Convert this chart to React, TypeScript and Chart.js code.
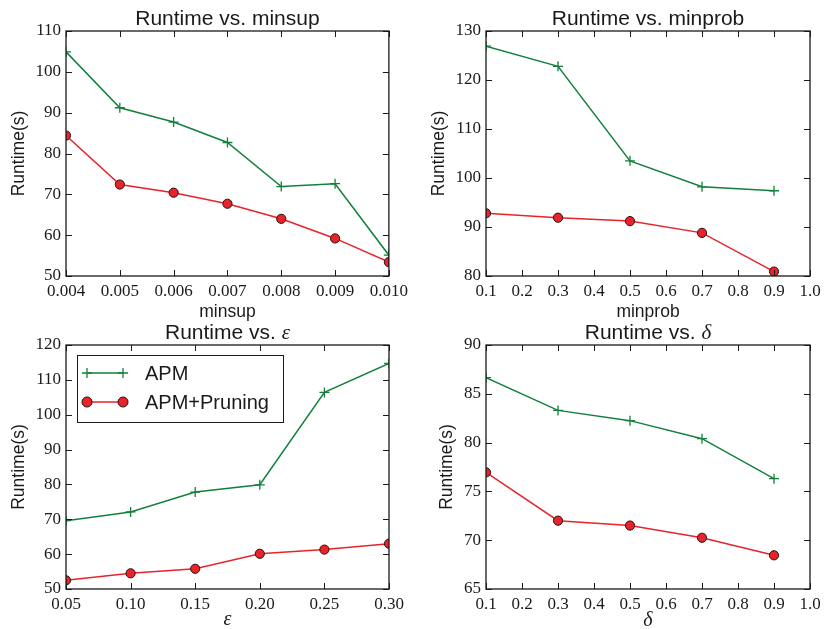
import React, { useEffect, useRef } from 'react';
import { Chart, registerables } from 'chart.js';

Chart.register(...registerables);

// ---- data -------------------------------------------------------------

const minsupValues = [0.004, 0.005, 0.006, 0.007, 0.008, 0.009, 0.01];
const minsupApm = [104.9, 91.2, 87.7, 82.7, 71.9, 72.6, 55.1];
const minsupPruning = [84.4, 72.4, 70.4, 67.7, 64.0, 59.2, 53.4];
const minsupTicks = [0.004, 0.005, 0.006, 0.007, 0.008, 0.009, 0.01];
const minsupRuntimeTicks = [50, 60, 70, 80, 90, 100, 110];

const minprobValues = [0.1, 0.3, 0.5, 0.7, 0.9];
const minprobApm = [126.9, 122.8, 103.5, 98.2, 97.4];
const minprobPruning = [92.8, 91.9, 91.2, 88.8, 80.9];
const minprobTicks = [0.1, 0.2, 0.3, 0.4, 0.5, 0.6, 0.7, 0.8, 0.9, 1.0];
const minprobRuntimeTicks = [80, 90, 100, 110, 120, 130];

const epsilonValues = [0.05, 0.1, 0.15, 0.2, 0.25, 0.3];
const epsilonApm = [69.6, 72.1, 77.8, 79.9, 106.4, 114.7];
const epsilonPruning = [52.5, 54.5, 55.8, 60.1, 61.3, 63.0];
const epsilonTicks = [0.05, 0.1, 0.15, 0.2, 0.25, 0.3];
const epsilonRuntimeTicks = [50, 60, 70, 80, 90, 100, 110, 120];

const deltaValues = [0.1, 0.3, 0.5, 0.7, 0.9];
const deltaApm = [86.65, 83.3, 82.25, 80.4, 76.3];
const deltaPruning = [76.95, 72.0, 71.5, 70.25, 68.45];
const deltaTicks = [0.1, 0.2, 0.3, 0.4, 0.5, 0.6, 0.7, 0.8, 0.9, 1.0];
const deltaRuntimeTicks = [65, 70, 75, 80, 85, 90];

const seriesNames = ['APM', 'APM+Pruning'];

// ---- styling ----------------------------------------------------------

const SANS = '"Liberation Sans", Arial, Helvetica, sans-serif';
const SERIF = '"Liberation Serif", "Times New Roman", serif';
const GREEN = '#12803c';
const RED = '#e8232a';
const INK = '#1a1a1a';
const MARKER_EDGE = '#2b1010';

type Run = { text: string; font: string };

interface PanelSpec {
  key: string;
  pos: [number, number, number, number];
  titleRuns: Run[];
  xTitle: string;
  xTitleFont: { family: string; size: number; style?: 'normal' | 'italic' };
  xTitlePad: number;
  xs: number[];
  apm: number[];
  pruning: number[];
  xTicks: number[];
  yTicks: number[];
  xDecimals: number;
  padLeft: number;
  yWidth: number;
  padRight: number;
  padTop: number;
  xHeight: number;
  legend: boolean;
}

const titleFont = `21px ${SANS}`;
const titleMath = `italic 21px ${SERIF}`;

// The upper canvases run a little past the row boundary so that
// descenders of their x-axis titles are not cut off.
const panels: PanelSpec[] = [
  {
    key: 'minsup',
    pos: [0, 0, 413, 324],
    titleRuns: [{ text: 'Runtime vs. minsup', font: titleFont }],
    xTitle: 'minsup',
    xTitleFont: { family: SANS, size: 17.5 },
    xTitlePad: 1,
    xs: minsupValues,
    apm: minsupApm,
    pruning: minsupPruning,
    xTicks: minsupTicks,
    yTicks: minsupRuntimeTicks,
    xDecimals: 3,
    padLeft: 1,
    yWidth: 65,
    padRight: 24,
    padTop: 31,
    xHeight: 48,
    legend: false,
  },
  {
    key: 'minprob',
    pos: [413, 0, 413, 324],
    titleRuns: [{ text: 'Runtime vs. minprob', font: titleFont }],
    xTitle: 'minprob',
    xTitleFont: { family: SANS, size: 17.5 },
    xTitlePad: 1,
    xs: minprobValues,
    apm: minprobApm,
    pruning: minprobPruning,
    xTicks: minprobTicks,
    yTicks: minprobRuntimeTicks,
    xDecimals: 1,
    padLeft: 8,
    yWidth: 65,
    padRight: 16,
    padTop: 31,
    xHeight: 48,
    legend: false,
  },
  {
    key: 'epsilon',
    pos: [0, 315, 413, 314],
    titleRuns: [
      { text: 'Runtime vs. ', font: titleFont },
      { text: 'ε', font: titleMath },
    ],
    xTitle: 'ε',
    xTitleFont: { family: SERIF, size: 20, style: 'italic' },
    xTitlePad: -3,
    xs: epsilonValues,
    apm: epsilonApm,
    pruning: epsilonPruning,
    xTicks: epsilonTicks,
    yTicks: epsilonRuntimeTicks,
    xDecimals: 2,
    padLeft: 1,
    yWidth: 65,
    padRight: 24,
    padTop: 30,
    xHeight: 40,
    legend: true,
  },
  {
    key: 'delta',
    pos: [413, 315, 413, 314],
    titleRuns: [
      { text: 'Runtime vs. ', font: titleFont },
      { text: 'δ', font: titleMath },
    ],
    xTitle: 'δ',
    xTitleFont: { family: SERIF, size: 20, style: 'italic' },
    xTitlePad: -4,
    xs: deltaValues,
    apm: deltaApm,
    pruning: deltaPruning,
    xTicks: deltaTicks,
    yTicks: deltaRuntimeTicks,
    xDecimals: 1,
    padLeft: 16,
    yWidth: 57,
    padRight: 16,
    padTop: 30,
    xHeight: 40,
    legend: false,
  },
];

// ---- plugins ----------------------------------------------------------

// Boxed axes with inward tick marks on all four sides.
const framePlugin = {
  id: 'boxedFrame',
  afterDatasetsDraw(chart: any) {
    const { ctx, chartArea: a, scales } = chart;
    const len = 6;
    ctx.save();
    ctx.strokeStyle = INK;
    ctx.lineWidth = 1;
    ctx.beginPath();
    for (const t of scales.x.ticks) {
      const px = Math.round(scales.x.getPixelForValue(t.value)) + 0.5;
      ctx.moveTo(px, a.bottom);
      ctx.lineTo(px, a.bottom - len);
      ctx.moveTo(px, a.top);
      ctx.lineTo(px, a.top + len);
    }
    for (const t of scales.y.ticks) {
      const py = Math.round(scales.y.getPixelForValue(t.value)) + 0.5;
      ctx.moveTo(a.left, py);
      ctx.lineTo(a.left + len, py);
      ctx.moveTo(a.right, py);
      ctx.lineTo(a.right - len, py);
    }
    ctx.stroke();
    ctx.lineWidth = 1.3;
    ctx.strokeRect(a.left, a.top, a.right - a.left, a.bottom - a.top);
    ctx.restore();
  },
};

function makeTitlePlugin(runs: Run[]) {
  return {
    id: 'mixedTitle',
    afterDraw(chart: any) {
      const { ctx, chartArea: a } = chart;
      ctx.save();
      ctx.fillStyle = INK;
      ctx.textBaseline = 'alphabetic';
      ctx.textAlign = 'left';
      const widths = runs.map((r) => {
        ctx.font = r.font;
        return ctx.measureText(r.text).width;
      });
      const total = widths.reduce((s, w) => s + w, 0);
      let x = (a.left + a.right) / 2 - total / 2;
      const y = a.top - 6.5;
      runs.forEach((r, i) => {
        ctx.font = r.font;
        ctx.fillText(r.text, x, y);
        x += widths[i];
      });
      ctx.restore();
    },
  };
}

function drawMarker(ctx: CanvasRenderingContext2D, style: string, x: number, y: number) {
  if (style === 'cross') {
    ctx.strokeStyle = GREEN;
    ctx.lineWidth = 1.3;
    ctx.beginPath();
    ctx.moveTo(x - 5, y);
    ctx.lineTo(x + 5, y);
    ctx.moveTo(x, y - 5);
    ctx.lineTo(x, y + 5);
    ctx.stroke();
  } else {
    ctx.fillStyle = RED;
    ctx.strokeStyle = MARKER_EDGE;
    ctx.lineWidth = 1;
    ctx.beginPath();
    ctx.arc(x, y, 5, 0, Math.PI * 2);
    ctx.fill();
    ctx.stroke();
  }
}

// Framed legend: a line sample with a marker at each end, then the label.
const legendPlugin = {
  id: 'sampleLegend',
  afterDraw(chart: any) {
    const { ctx, chartArea: a } = chart;
    const x0 = a.left + 11;
    const y0 = a.top + 10;
    const w = 206;
    const h = 67;
    ctx.save();
    ctx.fillStyle = '#ffffff';
    ctx.fillRect(x0, y0, w, h);
    ctx.strokeStyle = INK;
    ctx.lineWidth = 1;
    ctx.strokeRect(x0 + 0.5, y0 + 0.5, w, h);
    const rows = [
      { label: chart.data.datasets[0].label, color: GREEN, style: 'cross', dy: 18 },
      { label: chart.data.datasets[1].label, color: RED, style: 'circle', dy: 47 },
    ];
    for (const r of rows) {
      const y = y0 + r.dy;
      ctx.strokeStyle = r.color;
      ctx.lineWidth = 1.5;
      ctx.beginPath();
      ctx.moveTo(x0 + 10, y);
      ctx.lineTo(x0 + 46, y);
      ctx.stroke();
      drawMarker(ctx, r.style, x0 + 10, y);
      drawMarker(ctx, r.style, x0 + 46, y);
      ctx.fillStyle = INK;
      ctx.font = `20px ${SANS}`;
      ctx.textBaseline = 'middle';
      ctx.textAlign = 'left';
      ctx.fillText(r.label, x0 + 68, y + 1);
    }
    ctx.restore();
  },
};

// ---- chart panel ------------------------------------------------------

function Panel({ spec }: { spec: PanelSpec }) {
  const ref = useRef<HTMLCanvasElement | null>(null);

  useEffect(() => {
    if (!ref.current) return;
    const s = spec;
    const plugins: any[] = [framePlugin, makeTitlePlugin(s.titleRuns)];
    if (s.legend) plugins.push(legendPlugin);

    const chart = new Chart(ref.current, {
      type: 'line',
      data: {
        datasets: [
          {
            label: seriesNames[0],
            data: s.xs.map((x, i) => ({ x, y: s.apm[i] })),
            borderColor: GREEN,
            backgroundColor: GREEN,
            borderWidth: 1.5,
            pointStyle: 'cross',
            pointRadius: 5,
            pointBorderColor: GREEN,
            pointBorderWidth: 1.3,
            pointHoverRadius: 5,
            tension: 0,
            fill: false,
            clip: 0,
            order: 2,
          },
          {
            label: seriesNames[1],
            data: s.xs.map((x, i) => ({ x, y: s.pruning[i] })),
            borderColor: RED,
            backgroundColor: RED,
            borderWidth: 1.5,
            pointStyle: 'circle',
            pointRadius: 4.6,
            pointBackgroundColor: RED,
            pointBorderColor: MARKER_EDGE,
            pointBorderWidth: 1,
            pointHoverRadius: 4.6,
            tension: 0,
            fill: false,
            clip: 0,
            order: 1,
          },
        ],
      },
      options: {
        responsive: false,
        animation: false,
        events: [],
        layout: {
          padding: { left: s.padLeft, right: s.padRight, top: s.padTop, bottom: 0 },
        },
        plugins: {
          legend: { display: false },
          title: { display: false },
          tooltip: { enabled: false },
        },
        scales: {
          x: {
            type: 'linear',
            min: s.xTicks[0],
            max: s.xTicks[s.xTicks.length - 1],
            afterBuildTicks: (scale: any) => {
              scale.ticks = s.xTicks.map((v) => ({ value: v }));
            },
            afterFit: (scale: any) => {
              scale.height = s.xHeight;
            },
            grid: { display: false, drawTicks: false },
            border: { display: false },
            ticks: {
              autoSkip: false,
              maxRotation: 0,
              padding: 5,
              color: INK,
              font: { family: SERIF, size: 17 },
              callback: (v: any) => Number(v).toFixed(s.xDecimals),
            },
            title: {
              display: true,
              text: s.xTitle,
              color: INK,
              font: { family: s.xTitleFont.family, size: s.xTitleFont.size, style: s.xTitleFont.style || 'normal' },
              padding: { top: 0, bottom: s.xTitlePad },
            },
          },
          y: {
            type: 'linear',
            min: s.yTicks[0],
            max: s.yTicks[s.yTicks.length - 1],
            afterBuildTicks: (scale: any) => {
              scale.ticks = s.yTicks.map((v) => ({ value: v }));
            },
            afterFit: (scale: any) => {
              scale.width = s.yWidth;
            },
            grid: { display: false, drawTicks: false },
            border: { display: false },
            ticks: {
              autoSkip: false,
              padding: 5,
              color: INK,
              font: { family: SERIF, size: 17 },
              callback: (v: any) => String(v),
            },
            title: {
              display: true,
              text: 'Runtime(s)',
              color: INK,
              font: { family: SANS, size: 17.5 },
              padding: { top: 7.5, bottom: 0 },
            },
          },
        },
      },
      plugins,
    } as any);

    return () => chart.destroy();
  }, [spec]);

  const [left, top, width, height] = spec.pos;
  return (
    <canvas
      ref={ref}
      width={width}
      height={height}
      style={{ position: 'absolute', left, top, width, height, display: 'block' }}
    />
  );
}

export default function App() {
  return (
    <div style={{ position: 'absolute', left: 0, top: 0, width: 826, height: 629, background: '#ffffff', overflow: 'hidden' }}>
      {panels.map((p) => (
        <Panel key={p.key} spec={p} />
      ))}
    </div>
  );
}
